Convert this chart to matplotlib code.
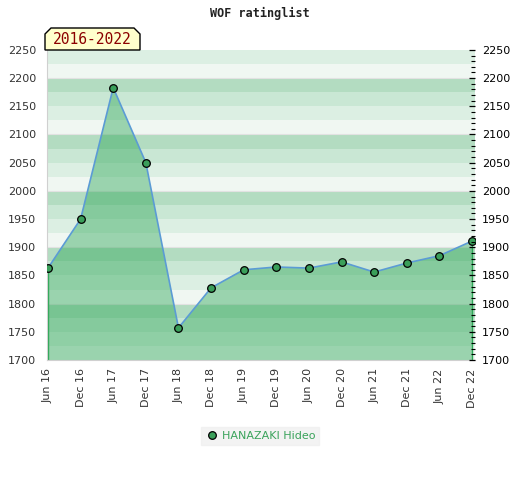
import matplotlib
matplotlib.use("Agg")
import matplotlib.pyplot as plt
from matplotlib.patches import Polygon
from matplotlib.ticker import MultipleLocator

dates = ["Jun 16", "Dec 16", "Jun 17", "Dec 17", "Jun 18", "Dec 18", "Jun 19",
         "Dec 19", "Jun 20", "Dec 20", "Jun 21", "Dec 21", "Jun 22", "Dec 22"]
rating = [1863, 1950, 2183, 2050, 1757, 1828, 1860,
          1865, 1863, 1874, 1856, 1872, 1885, 1911]
player = "HANAZAKI Hideo"
period = "2016-2022"

y_min, y_max = 1700, 2250
band_colors = ["#f0f7f2", "#dcefe3", "#c9e7d4", "#b3dcc1"]

fig = plt.figure(figsize=(5.2, 4.8), dpi=100)
ax = fig.add_axes([0.0904, 0.25, 0.823, 0.646])

x = list(range(len(dates)))

# horizontal bands, 25 points each, four shades per 100
lo = y_min
while lo < y_max:
    ax.axhspan(lo, lo + 25, color=band_colors[(lo % 100) // 25], lw=0, zorder=0)
    lo += 25
for h in range(1800, y_max, 100):
    ax.axhline(h, color="#e2e2e2", lw=0.8, zorder=0.5)

ax.fill_between(x, rating, y_min, facecolor="#2ea757", alpha=0.44, lw=0, zorder=1)
ax.vlines([x[0], x[-1]], y_min, [rating[0], rating[-1]], color="#2ea757", lw=1, zorder=2)
ax.plot(x, rating, color="#5b9bd5", lw=1.2, zorder=3)
ax.plot(x, rating, "o", ms=5.5, mfc="#3a9f5a", mec="black", mew=0.9, zorder=4,
        label=player)

ax.set_xlim(-0.03, 13.09)
ax.set_ylim(y_min, y_max)
ax.set_xticks(x)
ax.set_xticklabels(dates, rotation=90, color="#333333", fontsize=8)
ax.yaxis.set_major_locator(MultipleLocator(50))
ax.tick_params(axis="x", length=0, pad=6)
ax.tick_params(axis="y", left=False, labelsize=8, labelcolor="#333333", length=0,
               pad=8)
for s in ["top", "right"]:
    ax.spines[s].set_visible(False)
for s in ["left", "bottom"]:
    ax.spines[s].set_color("#d0d0d0")

# right-hand scale with fine ticks
ax2 = ax.twinx()
ax2.set_ylim(y_min, y_max)
ax2.yaxis.set_major_locator(MultipleLocator(50))
ax2.yaxis.set_minor_locator(MultipleLocator(10))
ax2.tick_params(axis="y", which="both", direction="in", labelsize=8,
                labelcolor="black")
ax2.tick_params(axis="y", which="major", length=4, width=0.9, pad=5)
ax2.tick_params(axis="y", which="minor", length=3, width=0.8)
for s in ax2.spines.values():
    s.set_visible(False)

fig.text(0.5, 0.972, "WOF ratinglist", ha="center", va="center",
         family="DejaVu Sans Mono", fontweight="bold", fontsize=8.5, color="#222222")

# period label with chamfered top corners
x0, x1, y0, y1, c = 45, 140, 430, 452, 6
pts = [(x0, y0), (x0, y1 - c), (x0 + c, y1), (x1 - c, y1), (x1, y1 - c), (x1, y0)]
fig.patches.append(Polygon([(px / 520, py / 480) for px, py in pts], closed=True,
                           transform=fig.transFigure, facecolor="#ffffcc",
                           edgecolor="black", lw=1, zorder=5))
fig.text((x0 + x1) / 2 / 520, (y0 + y1) / 2 / 480 - 0.002, period, ha="center",
         va="center", family="DejaVu Sans Mono", fontsize=10.5, color="#8b0000",
         zorder=6)

leg = fig.legend(handles=ax.get_lines()[-1:], loc="center",
                 bbox_to_anchor=(0.5, 0.092), frameon=True, fancybox=False,
                 fontsize=8, handletextpad=0.3, borderpad=0.35, handlelength=1.2)
leg.get_frame().set_facecolor("#f0f0f0")
leg.get_frame().set_edgecolor("#f0f0f0")
for t in leg.get_texts():
    t.set_color("#3aa35b")

fig.savefig("out.png", dpi=100)
